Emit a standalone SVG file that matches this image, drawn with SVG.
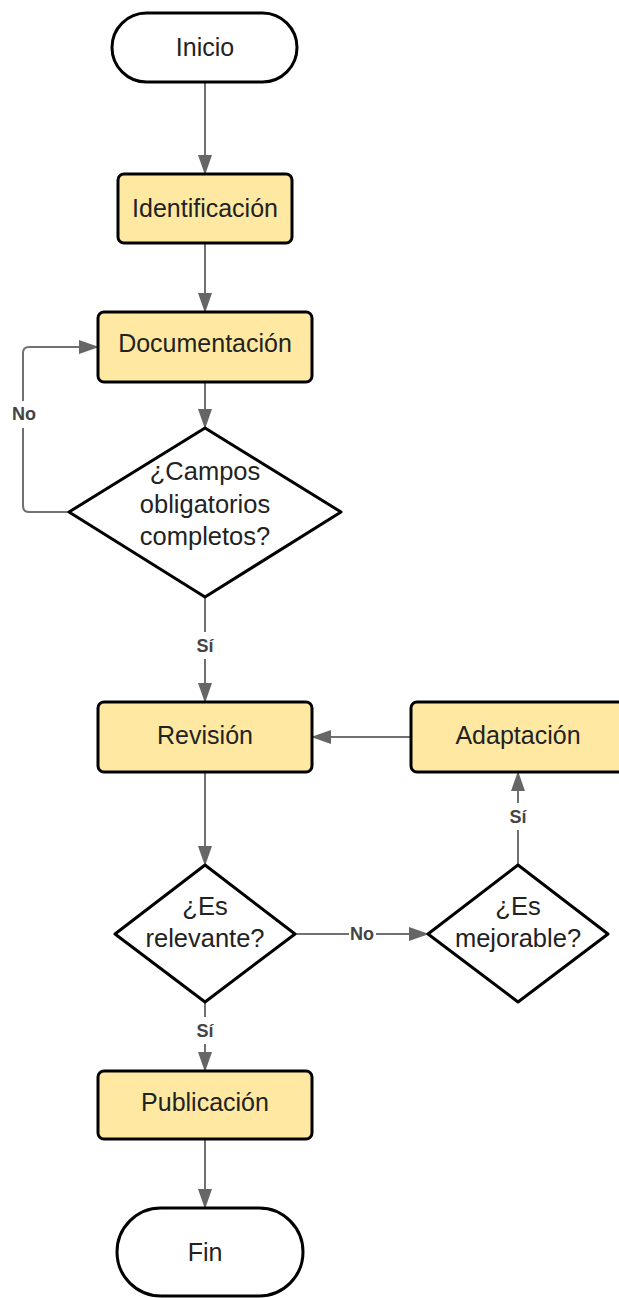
<svg xmlns="http://www.w3.org/2000/svg" width="619" height="1298" viewBox="0 0 619 1298">
<style>
.term{fill:#fff;stroke:#000;stroke-width:3}
.proc{fill:#ffe9a2;stroke:#000;stroke-width:3}
.dec{fill:#fff;stroke:#000;stroke-width:3;stroke-linejoin:round}
.t{font-family:"Liberation Sans",Arial,sans-serif;font-size:25px;fill:#222;text-anchor:middle}
.td{font-family:"Liberation Sans",Arial,sans-serif;font-size:25.5px;fill:#222;text-anchor:middle}
.lbl{font-family:"Liberation Sans",Arial,sans-serif;font-size:18px;font-weight:bold;fill:#444;text-anchor:middle}
.c{fill:none;stroke:#717171;stroke-width:2}
</style>
<defs>
<marker id="a" markerUnits="userSpaceOnUse" markerWidth="20" markerHeight="14" viewBox="0 0 20 14" refX="19" refY="7" orient="auto">
<path d="M0 0 L20 7 L0 14 Z" fill="#666"/>
</marker>
</defs>
<rect width="619" height="1298" fill="#fff"/>
<g id="connectors">
<path class="c" d="M205 82 V174" marker-end="url(#a)"/>
<path class="c" d="M205 243 V312" marker-end="url(#a)"/>
<path class="c" d="M205 382 V428" marker-end="url(#a)"/>
<path class="c" d="M69 512 H29 Q23 512 23 506 V428"/>
<path class="c" d="M23 401 V353 Q23 347 29 347 H98" marker-end="url(#a)"/>
<path class="c" d="M205 597 V632"/>
<path class="c" d="M205 659 V702" marker-end="url(#a)"/>
<path class="c" d="M411 737 H312" marker-end="url(#a)"/>
<path class="c" d="M205 772 V865" marker-end="url(#a)"/>
<path class="c" d="M295 934 H349"/>
<path class="c" d="M376 934 H428" marker-end="url(#a)"/>
<path class="c" d="M518 865 V830"/>
<path class="c" d="M518 803 V772" marker-end="url(#a)"/>
<path class="c" d="M205 1002 V1017"/>
<path class="c" d="M205 1044 V1071" marker-end="url(#a)"/>
<path class="c" d="M205 1139 V1208" marker-end="url(#a)"/>
<text class="lbl" x="24" y="420">No</text>
<text class="lbl" x="205" y="652">Sí</text>
<text class="lbl" x="362" y="940">No</text>
<text class="lbl" x="518" y="823">Sí</text>
<text class="lbl" x="205" y="1037">Sí</text>
</g>
<g id="inicio">
<rect class="term" x="112" y="13" width="185" height="69" rx="34.5"/>
<text class="t" x="205" y="56">Inicio</text>
</g>
<g id="identificacion">
<rect class="proc" x="118" y="174" width="174" height="69" rx="6"/>
<text class="t" x="205" y="217">Identificación</text>
</g>
<g id="documentacion">
<rect class="proc" x="98" y="312" width="214" height="70" rx="6"/>
<text class="t" x="205" y="352">Documentación</text>
</g>
<g id="campos">
<polygon class="dec" points="205,428 341,512 205,597 69,512"/>
<text class="td" x="205" y="480">¿Campos</text>
<text class="td" x="205" y="513">obligatorios</text>
<text class="td" x="205" y="545">completos?</text>
</g>
<g id="revision">
<rect class="proc" x="98" y="702" width="214" height="70" rx="6"/>
<text class="t" x="205" y="744">Revisión</text>
</g>
<g id="adaptacion">
<rect class="proc" x="411" y="702" width="214" height="70" rx="6"/>
<text class="t" x="518" y="744">Adaptación</text>
</g>
<g id="relevante">
<polygon class="dec" points="205,865 295,934 205,1002 115,934"/>
<text class="td" x="205" y="915">¿Es</text>
<text class="td" x="205" y="947">relevante?</text>
</g>
<g id="mejorable">
<polygon class="dec" points="518,865 608,934 518,1002 428,934"/>
<text class="td" x="518" y="915">¿Es</text>
<text class="td" x="518" y="947">mejorable?</text>
</g>
<g id="publicacion">
<rect class="proc" x="98" y="1071" width="214" height="68" rx="6"/>
<text class="t" x="205" y="1111">Publicación</text>
</g>
<g id="fin">
<rect class="term" x="117" y="1208" width="186" height="88" rx="44"/>
<text class="t" x="205" y="1261">Fin</text>
</g>
</svg>
